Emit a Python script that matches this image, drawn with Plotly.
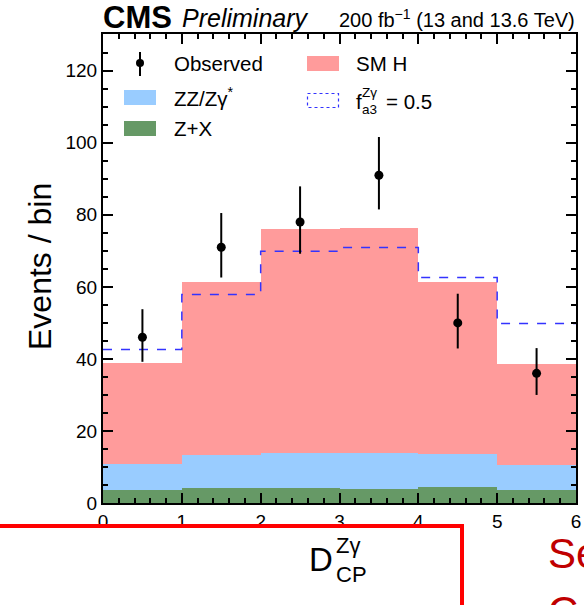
import plotly.graph_objects as go

# ---- data ----------------------------------------------------------------
bin_edges = [0, 1, 2, 3, 4, 5, 6]
bin_centers = [0.5, 1.5, 2.5, 3.5, 4.5, 5.5]

z_plus_x = [3.6, 4.1, 4.2, 4.0, 4.4, 3.5]          # Z+X background
zz_zgamma = [7.1, 9.1, 9.8, 9.9, 9.1, 7.1]         # ZZ/Zgamma* background
sm_higgs = [28.2, 48.2, 62.2, 62.4, 47.9, 28.0]    # SM Higgs signal
alt_total = [42.6, 57.9, 69.9, 70.9, 62.6, 49.8]   # total expectation, f_a3 = 0.5

observed = [46, 71, 78, 91, 50, 36]
obs_err_up = [7.8, 9.5, 9.9, 10.6, 8.1, 7.0]
obs_err_down = [6.8, 8.4, 8.8, 9.5, 7.1, 6.0]

y_ticks = [0, 20, 40, 60, 80, 100, 120]
x_ticks = [0, 1, 2, 3, 4, 5, 6]

# ---- style -----------------------------------------------------------------
FONT = "Liberation Sans, Arial, Helvetica, sans-serif"
C_ZX = "#669966"
C_ZZ = "#99ccff"
C_SM = "#ff9b9b"
C_ALT = "#3333ff"

W, H = 584, 605
L, R, T, B = 103, 8, 34, 102
PW, PH = W - L - R, H - T - B


def px(x):
    return (x - L) / PW


def py(y):
    return (H - B - y) / PH


fig = go.Figure()

for name, vals, col in [("Z+X", z_plus_x, C_ZX),
                        ("ZZ/Zγ*", zz_zgamma, C_ZZ),
                        ("SM H", sm_higgs, C_SM)]:
    fig.add_trace(go.Bar(x=bin_centers, y=vals, width=1, name=name,
                         marker=dict(color=col, line=dict(width=0)),
                         showlegend=False))

fig.add_trace(go.Scatter(x=bin_edges, y=alt_total + [alt_total[-1]],
                         mode="lines", line=dict(shape="hv", color=C_ALT,
                                                 dash="dash", width=1.5),
                         showlegend=False))

fig.add_trace(go.Scatter(x=bin_centers, y=observed, mode="markers",
                         marker=dict(color="black", size=9),
                         error_y=dict(type="data", symmetric=False,
                                      array=obs_err_up, arrayminus=obs_err_down,
                                      color="black", thickness=2, width=0),
                         showlegend=False))

axis_common = dict(showline=True, linecolor="black", linewidth=2, mirror="allticks",
                   ticks="inside", ticklen=10, tickwidth=1.5, tickcolor="black",
                   showgrid=False, zeroline=False,
                   tickfont=dict(family=FONT, size=19, color="black"))

fig.update_xaxes(range=[0, 6], tickvals=x_ticks,
                 minor=dict(ticks="inside", ticklen=5, tickwidth=1.5, dtick=0.2,
                            tickcolor="black", showgrid=False),
                 **axis_common)
fig.update_yaxes(range=[0, 130.2], tickvals=y_ticks,
                 minor=dict(ticks="inside", ticklen=5, tickwidth=1.5, dtick=5,
                            tickcolor="black", showgrid=False),
                 **axis_common)

ann = []


def text(x, y, s, size, xanchor="left", yanchor="middle", color="black", angle=0):
    ann.append(dict(x=px(x), y=py(y), xref="paper", yref="paper", text=s,
                    showarrow=False, xanchor=xanchor, yanchor=yanchor,
                    textangle=angle,
                    font=dict(family=FONT, size=size, color=color)))


# header
text(101, 17, "<b>CMS</b>", 31)
text(180, 18, "<i>Preliminary</i>", 25)
text(577, 19, "200 fb<sup>−1</sup> (13 and 13.6 TeV)", 20, xanchor="right")

# axis titles
text(40, 266, "Events / bin", 32, xanchor="center", angle=-90)
text(321, 559, "D", 33, xanchor="center")
text(334, 545, "Zγ", 22)
text(334, 574, "CP", 22)

# legend
shapes = []


def rect(x0, y0, x1, y1, fill=None, line=None):
    shapes.append(dict(type="rect", xref="paper", yref="paper",
                       x0=px(x0), x1=px(x1), y0=py(y0), y1=py(y1),
                       fillcolor=fill or "rgba(0,0,0,0)",
                       line=line or dict(width=0), layer="above"))


shapes.append(dict(type="line", xref="paper", yref="paper",
                   x0=px(140), x1=px(140), y0=py(52), y1=py(76),
                   line=dict(color="black", width=2)))
shapes.append(dict(type="circle", xref="paper", yref="paper",
                   x0=px(136), x1=px(144), y0=py(59), y1=py(67),
                   fillcolor="black", line=dict(width=0)))
text(172, 64, "Observed", 20.5)

rect(124, 90, 156, 105, fill=C_ZZ)
text(172, 97, "ZZ/Zγ<sup>*</sup>", 20.5)

rect(124, 121, 156, 136, fill=C_ZX)
text(172, 128, "Z+X", 20.5)

rect(307, 56, 339, 71, fill=C_SM)
text(354, 64, "SM H", 20.5)

rect(307.5, 93.5, 338.5, 107.5, line=dict(color=C_ALT, width=1.2, dash="dot"))
text(354, 101, "f", 20.5)
text(360, 93, "Zγ", 13.5)
text(360, 110, "a3", 13.5)
text(384, 101, "= 0.5", 20.5)

# red frame and note below the axis
shapes.append(dict(type="line", xref="paper", yref="paper",
                   x0=px(-5), x1=px(462), y0=py(526), y1=py(526),
                   line=dict(color="#ff0000", width=4), layer="above"))
shapes.append(dict(type="line", xref="paper", yref="paper",
                   x0=px(462), x1=px(462), y0=py(524), y1=py(615),
                   line=dict(color="#ff0000", width=4), layer="above"))
text(546, 553, "Se", 42, color="#c00000")
text(546, 611, "C", 42, color="#c00000")

fig.update_layout(width=W, height=H, barmode="stack", bargap=0,
                  margin=dict(l=L, r=R, t=T, b=B, autoexpand=False),
                  paper_bgcolor="white", plot_bgcolor="white",
                  showlegend=False, annotations=ann, shapes=shapes,
                  font=dict(family=FONT, color="black"))

fig.write_html("out.html")
